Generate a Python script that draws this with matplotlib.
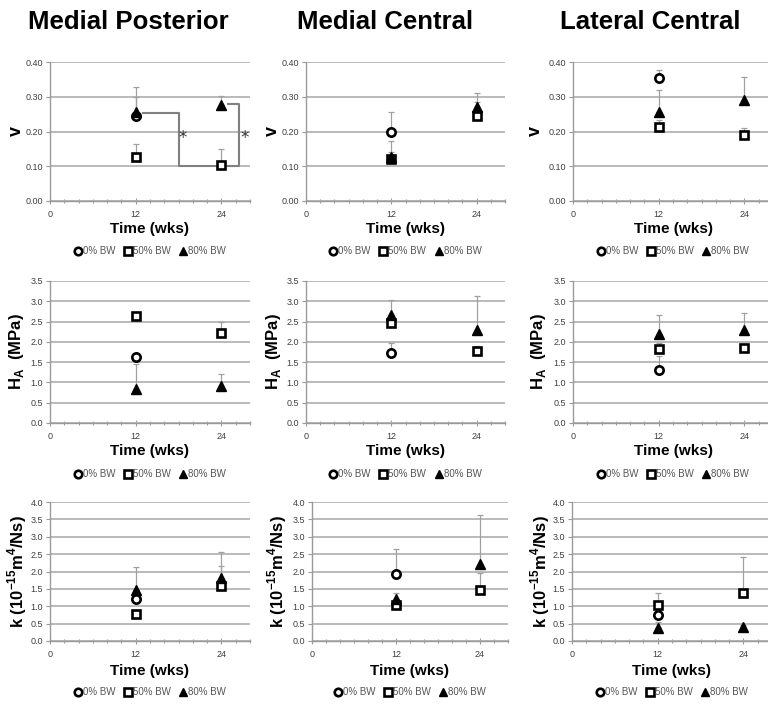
import matplotlib
matplotlib.use("Agg")
import matplotlib.pyplot as plt
import numpy as np
from matplotlib.ticker import MultipleLocator, FormatStrFormatter

FAM = ['Liberation Sans', 'DejaVu Sans']
plt.rcParams['font.family'] = FAM
plt.rcParams['mathtext.fontset'] = 'custom'
plt.rcParams['mathtext.rm'] = 'Liberation Sans:bold'
plt.rcParams['mathtext.bf'] = 'Liberation Sans:bold'

# ---------------- data ----------------
columns = ["Medial Posterior", "Medial Central", "Lateral Central"]
series = ["0% BW", "50% BW", "80% BW"]
t_zero = [12]          # 0% BW measured at 12 wks only
t_load = [12, 24]      # 50% / 80% BW at 12 and 24 wks

# Poisson's ratio v
v_mean_0 = [[0.245], [0.198], [0.353]]
v_err_0 = [[0.055], [0.058], [0.023]]
v_mean_50 = [[0.127, 0.103], [0.122, 0.245], [0.213, 0.190]]
v_err_50 = [[0.036, 0.046], [0.052, 0.040], [0.020, 0.020]]
v_mean_80 = [[0.257, 0.276], [0.127, 0.271], [0.256, 0.292]]
v_err_80 = [[0.070, 0.027], [0.015, 0.040], [0.063, 0.064]]

# Aggregate modulus HA (MPa)
h_mean_0 = [[1.62], [1.73], [1.30]]
h_err_0 = [[0.05], [0.24], [0.34]]
h_mean_50 = [[2.63, 2.22], [2.47, 1.78], [1.83, 1.85]]
h_err_50 = [[0.05, 0.28], [0.10, 0.12], [0.15, 0.10]]
h_mean_80 = [[0.84, 0.90], [2.67, 2.28], [2.19, 2.28]]
h_err_80 = [[0.61, 0.31], [0.35, 0.84], [0.48, 0.43]]

# Permeability k (1e-15 m^4/Ns)
k_mean_0 = [[1.21], [1.94], [0.74]]
k_err_0 = [[0.10], [0.70], [0.15]]
k_mean_50 = [[0.79, 1.57], [1.05, 1.47], [1.03, 1.37]]
k_err_50 = [[0.10, 0.60], [0.10, 0.50], [0.34, 1.05]]
k_mean_80 = [[1.48, 1.82], [1.22, 2.23], [0.36, 0.41]]
k_err_80 = [[0.65, 0.73], [0.17, 1.40], [0.20, 0.05]]

# significance brackets (Medial Posterior, v)
bracket1_x = [13.0, 18.1, 18.1, 24.0]
bracket1_y = [0.252, 0.252, 0.100, 0.100]
bracket2_x = [24.0, 26.5, 26.5, 24.9]
bracket2_y = [0.100, 0.100, 0.278, 0.278]
star_x = [18.6, 27.2]
star_y = [0.180, 0.180]

rows = [
    dict(m0=v_mean_0, e0=v_err_0, m50=v_mean_50, e50=v_err_50, m80=v_mean_80, e80=v_err_80,
         ymax=0.40, step=0.10, fmt='%.2f', label='v'),
    dict(m0=h_mean_0, e0=h_err_0, m50=h_mean_50, e50=h_err_50, m80=h_mean_80, e80=h_err_80,
         ymax=3.5, step=0.5, fmt='%.1f', label=r'H$_{\mathbf{A}}$  (MPa)'),
    dict(m0=k_mean_0, e0=k_err_0, m50=k_mean_50, e50=k_err_50, m80=k_mean_80, e80=k_err_80,
         ymax=4.0, step=0.5, fmt='%.1f', label=r'k (10$^{\mathbf{-15}}$m$^{\mathbf{4}}$/Ns)'),
]

W, H = 768, 704
fig = plt.figure(figsize=(W / 100, H / 100), dpi=100)

col_lr = [[(50, 250), (306, 505), (573, 773)],
          [(50, 250), (306, 505), (573, 773)],
          [(50, 250), (312, 508), (572, 772)]]
row_tb = [(62, 201), (281, 423), (502, 641)]
ylab_x = [[-0.17, -0.17, -0.19], [-0.165, -0.165, -0.175], [-0.165, -0.18, -0.16]]

grid_c = '#b4b4b4'
axis_c = '#9a9a9a'
tick_c = '#404040'
err_c = '#a0a0a0'

for r, rd in enumerate(rows):
    top, bot = row_tb[r]
    for c in range(3):
        l, rr = col_lr[r][c]
        ax = fig.add_axes([l / W, 1 - bot / H, (rr - l) / W, (bot - top) / H])
        ax.set_xlim(0, 28)
        ax.set_ylim(0, rd['ymax'])
        for s in ['top', 'right']:
            ax.spines[s].set_visible(False)
        for s in ['left', 'bottom']:
            ax.spines[s].set_color(axis_c)
            ax.spines[s].set_linewidth(1.0)
        ax.yaxis.set_major_locator(MultipleLocator(rd['step']))
        ax.yaxis.set_major_formatter(FormatStrFormatter(rd['fmt']))
        ax.set_xticks([0, 12, 24])
        ax.xaxis.set_minor_locator(MultipleLocator(2))
        ax.tick_params(axis='y', length=3, width=0.8, color=axis_c, labelsize=6.5,
                       labelcolor=tick_c, pad=2)
        ax.tick_params(axis='x', which='major', direction='inout', length=5, width=0.8,
                       color=axis_c, labelsize=6.5, labelcolor=tick_c, pad=4)
        ax.tick_params(axis='x', which='minor', direction='inout', length=3, width=0.8,
                       color=axis_c)
        ax.grid(axis='y', color=grid_c, lw=1.3, zorder=0)
        ax.set_axisbelow(True)

        ax.errorbar(t_zero, rd['m0'][c], yerr=[np.zeros(1), rd['e0'][c]], fmt='none',
                    ecolor=err_c, elinewidth=0.9, capsize=2, capthick=0.9, zorder=2)
        ax.errorbar(t_load, rd['m50'][c], yerr=[np.zeros(2), rd['e50'][c]], fmt='none',
                    ecolor=err_c, elinewidth=0.9, capsize=2, capthick=0.9, zorder=2)
        ax.errorbar(t_load, rd['m80'][c], yerr=[np.zeros(2), rd['e80'][c]], fmt='none',
                    ecolor=err_c, elinewidth=0.9, capsize=2, capthick=0.9, zorder=2)

        if r == 0 and c == 0:
            ax.plot(bracket1_x, bracket1_y, color='#808080', lw=1.5, zorder=3)
            ax.plot(bracket2_x, bracket2_y, color='#808080', lw=1.5, zorder=3)
            for sx, sy in zip(star_x, star_y):
                ax.text(sx, sy, '*', ha='center', va='center', fontsize=12,
                        color='#333333', family=['DejaVu Sans'])

        h0, = ax.plot(t_zero, rd['m0'][c], 'o', ms=6, mfc='white', mec='black', mew=1.9,
                      ls='none', zorder=4, label=series[0])
        h50, = ax.plot(t_load, rd['m50'][c], 's', ms=6, mfc='white', mec='black', mew=1.9,
                       ls='none', zorder=4, label=series[1])
        h80, = ax.plot(t_load, rd['m80'][c], '^', ms=7, mfc='black', mec='black', mew=1,
                       ls='none', zorder=5, label=series[2])

        hgt = bot - top
        ax.set_xlabel('Time (wks)', fontsize=11, fontweight='bold', color='black')
        ax.xaxis.label.set_va('center')
        ax.xaxis.set_label_coords(0.5, -(28 if r < 2 else 30) / hgt)
        ax.set_ylabel(rd['label'], fontsize=12 if r > 0 else 13, fontweight='bold')
        ax.yaxis.label.set_va('center')
        ax.yaxis.set_label_coords(ylab_x[r][c], 0.5)

        leg_y = -(50 if r == 0 else 51) / hgt
        ax.legend(handles=[h0, h50, h80], loc='center', bbox_to_anchor=(0.5, leg_y),
                  ncol=3, frameon=False, fontsize=7, handlelength=0.8,
                  handletextpad=0.1, columnspacing=0.9, labelcolor='#555555',
                  markerscale=0.9, borderaxespad=0)

title_x = [128, 385, 650]
for t, x in zip(columns, title_x):
    fig.text(x / W, 1 - 22 / H, t, ha='center', va='center', fontsize=18.5,
             fontweight='bold')

fig.savefig('out.png', dpi=100)
